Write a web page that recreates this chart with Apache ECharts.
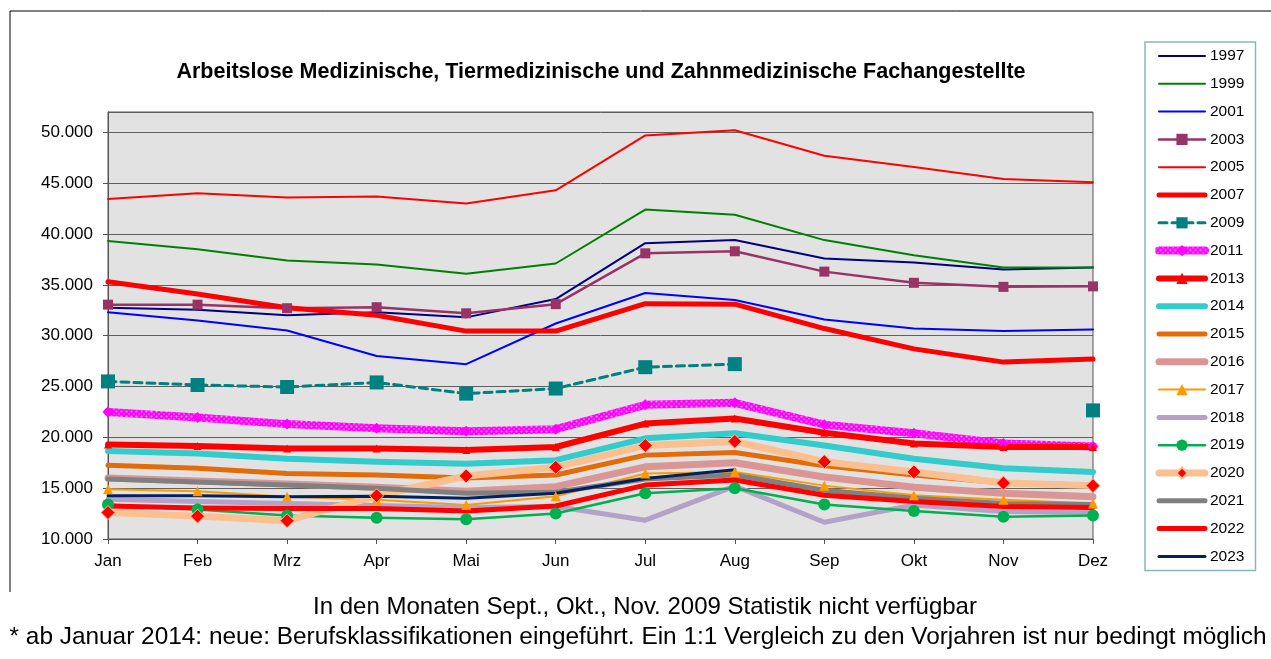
<!DOCTYPE html>
<html>
<head>
<meta charset="utf-8">
<script src="https://cdn.jsdelivr.net/npm/echarts@6/dist/echarts.min.js"></script>
<style>
  html, body { margin: 0; padding: 0; background: #fff; }
  #chart { width: 1271px; height: 659px; }
</style>
</head>
<body>
<div id="chart"></div>
<script>
// Monthly unemployment figures, medical / veterinary / dental assistants
const months = ['Jan', 'Feb', 'Mrz', 'Apr', 'Mai', 'Jun', 'Jul', 'Aug', 'Sep', 'Okt', 'Nov', 'Dez'];
const years = ['1997', '1999', '2001', '2003', '2005', '2007', '2009', '2011', '2013', '2014',
               '2015', '2016', '2017', '2018', '2019', '2020', '2021', '2022', '2023'];

const y1997 = [32750, 32550, 32000, 32300, 31800, 33600, 39100, 39400, 37600, 37200, 36500, 36700];
const y1999 = [39300, 38500, 37400, 37000, 36100, 37100, 42400, 41900, 39400, 37900, 36700, 36700];
const y2001 = [32300, 31500, 30500, 28000, 27200, 31200, 34200, 33500, 31600, 30700, 30450, 30600];
const y2003 = [33050, 33050, 32700, 32800, 32200, 33100, 38100, 38300, 36300, 35200, 34800, 34850];
const y2005 = [43450, 44000, 43600, 43700, 43000, 44300, 49700, 50200, 47700, 46600, 45400, 45100];
const y2007 = [35300, 34100, 32750, 32000, 30450, 30450, 33150, 33100, 30700, 28700, 27400, 27700];
const y2009 = [25500, 25150, 24950, 25400, 24300, 24800, 26900, 27200, null, null, null, 22650];
const y2011 = [22500, 21950, 21300, 20900, 20600, 20800, 23200, 23400, 21250, 20400, 19400, 19100];
const y2013 = [19300, 19150, 18900, 18900, 18750, 19050, 21350, 21850, 20450, 19400, 19050, 19050];
const y2014 = [18650, 18400, 17900, 17600, 17400, 17750, 19900, 20400, 19200, 17900, 16950, 16600];
const y2015 = [17250, 16950, 16450, 16300, 16000, 16300, 18250, 18500, 17200, 16300, 15500, 15300];
const y2016 = [16000, 15700, 15400, 15100, 14700, 15150, 17100, 17500, 16100, 15100, 14500, 14150];
const y2017 = [14900, 14700, 14150, 13850, 13350, 14200, 16450, 16600, 15250, 14300, 13850, 13500];
const y2018 = [13900, 13700, 13500, 13300, 13100, 13200, 11850, 15200, 11650, 13350, 12700, 12600];
const y2019 = [13400, 12900, 12300, 12100, 11950, 12500, 14500, 15000, 13400, 12750, 12200, 12300];
const y2020 = [12600, 12250, 11800, 14250, 16200, 17050, 19200, 19600, 17600, 16600, 15500, 15250];
const y2021 = [15900, 15600, 15300, 15000, 14500, 14600, 15900, 16300, 14800, 14000, 13500, 13400];
const y2022 = [13250, 13050, 13000, 13000, 12750, 13250, 15300, 15800, 14300, 13700, 13200, 13100];
const y2023 = [14250, 14250, 14150, 14200, 14000, 14500, 15950, 16800];

const yTickMin = 10000;
const yTickMax = 52000;
const yTickStep = 5000;

const seriesValues = [y1997, y1999, y2001, y2003, y2005, y2007, y2009, y2011, y2013, y2014,
                      y2015, y2016, y2017, y2018, y2019, y2020, y2021, y2022, y2023];

// Speckled magenta stroke for the 2011 line
function speckle() {
  const c = document.createElement('canvas');
  c.width = 5; c.height = 5;
  const g = c.getContext('2d');
  g.fillStyle = '#ff00ff';
  g.fillRect(0, 0, 5, 5);
  g.fillStyle = '#ff99ff';
  g.beginPath(); g.arc(1.5, 1.5, 1.1, 0, Math.PI * 2); g.fill();
  g.beginPath(); g.arc(4, 4, 0.8, 0, Math.PI * 2); g.fill();
  return c;
}

// Line appearance per year: colour, width, dash, marker
const looks = {
  '1997': { c: '#000080', w: 2 },
  '1999': { c: '#008000', w: 2 },
  '2001': { c: '#0000ff', w: 2 },
  '2003': { c: '#993366', w: 2.5, sym: 'rect', ss: 10 },
  '2005': { c: '#ff0000', w: 2 },
  '2007': { c: '#ff0000', w: 5 },
  '2009': { c: '#008080', w: 3, dash: [8, 5], sym: 'rect', ss: 14 },
  '2011': { c: '#ff00ff', w: 8, pat: true, sym: 'diamond', ss: 11 },
  '2013': { c: '#ff0000', w: 6, sym: 'triangle', ss: 8 },
  '2014': { c: '#33cccc', w: 6 },
  '2015': { c: '#e36c09', w: 5 },
  '2016': { c: '#d99694', w: 7 },
  '2017': { c: '#ff9900', w: 2, sym: 'triangle', ss: 10 },
  '2018': { c: '#b3a2c7', w: 5 },
  '2019': { c: '#00b050', w: 2.5, sym: 'circle', ss: 12 },
  '2020': { c: '#fac090', w: 7, sym: 'diamond', ss: 14, mc: '#ff0000' },
  '2021': { c: '#808080', w: 5 },
  '2022': { c: '#ff0000', w: 5 },
  '2023': { c: '#002060', w: 3 }
};

const pattern = { image: speckle(), repeat: 'repeat' };

const series = years.map((yr, i) => {
  const l = looks[yr];
  return {
    name: yr,
    type: 'line',
    data: seriesValues[i],
    color: l.mc || l.c,
    symbol: l.sym || 'none',
    symbolSize: l.ss || 0,
    showSymbol: !!l.sym,
    connectNulls: false,
    lineStyle: {
      color: l.pat ? pattern : l.c,
      width: l.w,
      type: l.dash || 'solid',
      cap: 'round',
      join: 'round'
    },
    itemStyle: {
      color: l.mc || l.c,
      borderColor: l.c,
      borderWidth: l.mc ? 1 : 0
    },
    emphasis: { disabled: true },
    animation: false
  };
});

// Legend entries: plain lines get no marker in the key
const legendData = years.map(yr => ({
  name: yr,
  itemStyle: { opacity: looks[yr].sym ? 1 : 0 }
}));

const chart = echarts.init(document.getElementById('chart'), null, { renderer: 'canvas' });

chart.setOption({
  animation: false,
  backgroundColor: '#ffffff',
  textStyle: { fontFamily: 'Liberation Sans, Arial, sans-serif' },
  grid: {
    left: 108, right: 178, top: 112, bottom: 120,
    show: true,
    backgroundColor: '#e2e2e2',
    borderColor: '#555555',
    borderWidth: 1
  },
  xAxis: {
    type: 'category',
    data: months,
    boundaryGap: false,
    axisLine: { lineStyle: { color: '#555555', width: 1 } },
    axisTick: { show: true, length: 5, lineStyle: { color: '#555555' } },
    axisLabel: { color: '#000', fontSize: 17, margin: 14 },
    splitLine: { show: false }
  },
  yAxis: {
    type: 'value',
    min: yTickMin,
    max: yTickMax,
    interval: yTickStep,
    axisLine: { show: true, lineStyle: { color: '#555555', width: 1 } },
    axisTick: { show: true, length: 5, lineStyle: { color: '#555555' } },
    axisLabel: {
      color: '#000',
      fontSize: 17,
      margin: 15,
      showMaxLabel: false,
      formatter: v => (v / 1000).toFixed(3)
    },
    splitLine: { show: true, lineStyle: { color: '#606060', width: 1 } }
  },
  legend: {
    data: legendData,
    orient: 'vertical',
    left: 1145,
    top: 42,
    padding: [6, 11, 6, 10],
    itemWidth: 46,
    itemHeight: 14,
    itemGap: 11.8,
    itemSymbolSize: 9,
    borderColor: '#8ab8b8',
    borderWidth: 1.5,
    textStyle: { color: '#000', fontSize: 15.5 },
    lineStyle: { width: 'inherit' },
    selectedMode: false
  },
  graphic: [
    {
      type: 'line',
      shape: { x1: 10, y1: 11, x2: 1271, y2: 11 },
      style: { stroke: '#000', lineWidth: 1 }
    },
    {
      type: 'line',
      shape: { x1: 10, y1: 11, x2: 10, y2: 592 },
      style: { stroke: '#000', lineWidth: 1 }
    },
    {
      type: 'text',
      x: 601, y: 72,
      style: {
        text: 'Arbeitslose Medizinische, Tiermedizinische und Zahnmedizinische Fachangestellte',
        font: 'bold 21.5px "Liberation Sans", Arial, sans-serif',
        fill: '#000',
        textAlign: 'center',
        textVerticalAlign: 'middle'
      }
    },
    {
      type: 'text',
      x: 645, y: 607,
      style: {
        text: 'In den Monaten Sept., Okt., Nov. 2009 Statistik nicht verfügbar',
        font: '24px "Liberation Sans", Arial, sans-serif',
        fill: '#000',
        textAlign: 'center',
        textVerticalAlign: 'middle'
      }
    },
    {
      type: 'text',
      x: 638, y: 637,
      style: {
        text: '* ab Januar 2014: neue: Berufsklassifikationen eingeführt. Ein 1:1 Vergleich zu den Vorjahren ist nur bedingt möglich',
        font: '24.4px "Liberation Sans", Arial, sans-serif',
        fill: '#000',
        textAlign: 'center',
        textVerticalAlign: 'middle'
      }
    }
  ],
  series: series
});
</script>
</body>
</html>
